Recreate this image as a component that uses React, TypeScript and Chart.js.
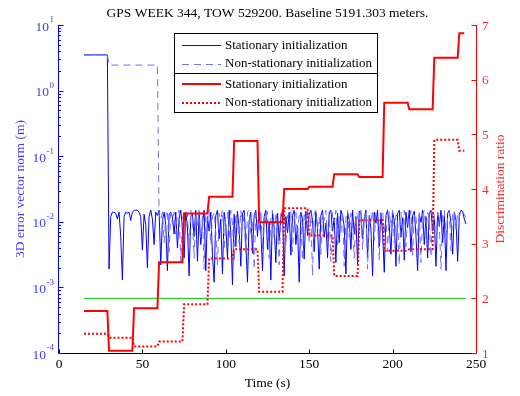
import React, { useEffect, useRef } from 'react';
import { Chart, registerables } from 'chart.js';

Chart.register(...registerables);

const TITLE = 'GPS WEEK 344, TOW 529200. Baseline 5191.303 meters.';
const X_LABEL = 'Time (s)';
const Y_LEFT_LABEL = '3D error vector norm (m)';
const Y_RIGHT_LABEL = 'Discrimination ratio';
const LEGEND_LABELS = [
  'Stationary initialization',
  'Non-stationary initialization',
  'Stationary initialization',
  'Non-stationary initialization',
];

const xTicks = [0, 50, 100, 150, 200, 250];
const rightTicks = [1, 2, 3, 4, 5, 6, 7];
const leftExponents = [-4, -3, -2, -1, 0, 1];

// discrimination ratio: value held over 15 s blocks
const stepStarts = [15, 30, 45, 60, 75, 90, 105, 120, 135, 150, 165, 180, 195, 210, 225, 240];
const stepEnd = 243;
const ratioStationary = [1.77, 1.04, 1.82, 2.66, 3.55, 3.86, 4.88, 3.39, 4.0, 4.04, 4.27, 4.22, 5.58, 5.46, 6.4, 6.85];
const ratioNonStationary = [1.35, 1.28, 1.12, 1.21, 1.89, 2.73, 2.9, 2.12, 3.65, 3.15, 2.41, 3.43, 2.87, 2.9, 4.9, 4.7];
const thresholdValue = 2;
const thresholdTimes = [15, 244];

// 3D error norm
const errInitialTimes = [15, 29];
const errInitialValue = 3.5;
const errNonStatPlateauTimes = [30, 59];
const errNonStatPlateau = 2.45;
const errStationaryStart = 30;
const errStationary = [
  0.0019, 0.012, 0.014, 0.014, 0.0135, 0.011, 0.014, 0.006, 0.0013, 0.012,
  0.014, 0.0135, 0.014, 0.0105, 0.014, 0.015, 0.015, 0.015, 0.014, 0.012,
  0.0037, 0.013, 0.009, 0.002, 0.012, 0.015, 0.011, 0.0045, 0.014, 0.0125,
  0.015, 0.0022, 0.0105, 0.014, 0.009, 0.0018, 0.013, 0.014, 0.012, 0.0065,
  0.014, 0.004, 0.011, 0.015, 0.008, 0.0028, 0.014, 0.0085, 0.0015, 0.012,
  0.0135, 0.006, 0.015, 0.0025, 0.013, 0.0045, 0.0095, 0.015, 0.0018, 0.012,
  0.0072, 0.014, 0.0032, 0.0012, 0.0125, 0.015, 0.0055, 0.011, 0.0016, 0.014,
  0.009, 0.0028, 0.015, 0.0068, 0.0011, 0.013, 0.0042, 0.0145, 0.008, 0.0021,
  0.0135, 0.015, 0.0048, 0.0012, 0.0105, 0.014, 0.0033, 0.0125, 0.015, 0.006,
  0.0145, 0.0075, 0.0018, 0.012, 0.015, 0.0038, 0.0095, 0.0013, 0.014, 0.0082,
  0.0024, 0.0135, 0.0052, 0.0115, 0.015, 0.0015, 0.012, 0.0068, 0.014, 0.0031,
  0.0125, 0.015, 0.0045, 0.0088, 0.0012, 0.014, 0.011, 0.0027, 0.0145, 0.0062,
  0.013, 0.015, 0.0105, 0.0035, 0.014, 0.0078, 0.0019, 0.0125, 0.015, 0.0058,
  0.0095, 0.0028, 0.014, 0.015, 0.0072, 0.0115, 0.0024, 0.0135, 0.0048, 0.015,
  0.0125, 0.0085, 0.0016, 0.014, 0.0105, 0.0038, 0.015, 0.0065, 0.012, 0.0022,
  0.0145, 0.0135, 0.0055, 0.011, 0.015, 0.0028, 0.0125, 0.0078, 0.0015, 0.014,
  0.0095, 0.015, 0.0042, 0.0135, 0.0068, 0.0017, 0.0125, 0.015, 0.0088, 0.0032,
  0.014, 0.0105, 0.0021, 0.0135, 0.015, 0.0058, 0.0115, 0.0026, 0.014, 0.0082,
  0.015, 0.0035, 0.0125, 0.0145, 0.0062, 0.0018, 0.013, 0.0098, 0.015, 0.0045,
  0.012, 0.0028, 0.0135, 0.015, 0.0072, 0.0112, 0.0021, 0.014, 0.0085, 0.015,
  0.0048, 0.0125, 0.0018, 0.0135, 0.015, 0.0095, 0.0032, 0.014, 0.0105, 0.0025,
  0.013, 0.015, 0.0145, 0.011, 0.0092,
];
const errNonStationaryStart = 60;
const errNonStationary = [
  0.013, 0.0105, 0.014, 0.0048, 0.012, 0.015, 0.0035, 0.0135, 0.0092, 0.014,
  0.0065, 0.013, 0.015, 0.0025, 0.011, 0.014, 0.0078, 0.0135, 0.0042, 0.015,
  0.011, 0.0028, 0.014, 0.0088, 0.015, 0.0055, 0.0125, 0.0019, 0.013, 0.0105,
  0.015, 0.0045, 0.012, 0.014, 0.0068, 0.0022, 0.0135, 0.011, 0.015, 0.0038,
  0.0125, 0.014, 0.0058, 0.015, 0.0095, 0.0024, 0.0135, 0.011, 0.0048, 0.015,
  0.0082, 0.0125, 0.0031, 0.014, 0.015, 0.0065, 0.0105, 0.0019, 0.0135, 0.012,
  0.0072, 0.015, 0.0038, 0.0125, 0.0098, 0.0145, 0.0028, 0.011, 0.015, 0.0055,
  0.014, 0.0088, 0.0022, 0.0135, 0.0115, 0.015, 0.0042, 0.0125, 0.0075, 0.0145,
  0.0035, 0.011, 0.015, 0.0062, 0.0135, 0.0105, 0.0026, 0.014, 0.0092, 0.015,
  0.0048, 0.0125, 0.0015, 0.0135, 0.015, 0.0078, 0.0118, 0.0032, 0.014, 0.0105,
  0.015, 0.0055, 0.0128, 0.0025, 0.0138, 0.0098, 0.015, 0.0045, 0.0122, 0.0068,
  0.0145, 0.0021, 0.0115, 0.015, 0.0058, 0.0135, 0.0088, 0.0028, 0.014, 0.0125,
  0.0072, 0.015, 0.0038, 0.0118, 0.014, 0.0019, 0.0128, 0.0095, 0.015, 0.0052,
  0.0138, 0.0105, 0.0026, 0.014, 0.015, 0.0065, 0.0122, 0.0035, 0.0145, 0.0082,
  0.015, 0.0048, 0.0128, 0.0112, 0.0022, 0.014, 0.0075, 0.015, 0.0042, 0.0125,
  0.0098, 0.015, 0.0031, 0.0135, 0.0118, 0.0058, 0.0145, 0.0024, 0.0128, 0.015,
  0.0068, 0.0138, 0.0105, 0.0029, 0.015, 0.0122, 0.0045, 0.014, 0.0088, 0.0019,
  0.0132, 0.015, 0.0062, 0.0115, 0.0145, 0.0036, 0.0128, 0.015, 0.0078, 0.0135,
  0.012, 0.0145, 0.015, 0.0128, 0.0118,
];

const BLUE = '#0000ff';
const BLUE_LIGHT = '#6e6eff';
const BLUE_TEXT = '#3c3cff';
const RED = '#ff0000';
const RED_TEXT = '#ff2a2a';
const GREEN = '#00c800';
const FONT = '"Liberation Serif", "Times New Roman", serif';

function stepPoints(vals: number[]) {
  const pts: { x: number; y: number }[] = [];
  vals.forEach((v, i) => {
    const s = stepStarts[i];
    const e = i + 1 < stepStarts.length ? stepStarts[i + 1] - 1 : stepEnd;
    pts.push({ x: s, y: v }, { x: e, y: v });
  });
  return pts;
}

const decorPlugin = {
  id: 'decor',
  afterDraw(chart: any) {
    const ctx: CanvasRenderingContext2D = chart.ctx;
    const { left, right, top, bottom } = chart.chartArea;
    const xs = chart.scales.x;
    const yl = chart.scales.yL;
    const yr = chart.scales.yR;
    const f = (s: number) => `${s}px ${FONT}`;
    ctx.save();

    // title
    ctx.fillStyle = '#000';
    ctx.font = f(13.5);
    ctx.textAlign = 'center';
    ctx.textBaseline = 'middle';
    ctx.fillText(TITLE, (left + right) / 2, 13);

    // bottom axis
    const by = Math.round(bottom) + 0.5;
    ctx.strokeStyle = '#000';
    ctx.lineWidth = 1;
    ctx.beginPath();
    ctx.moveTo(left, by);
    ctx.lineTo(right, by);
    xTicks.forEach((t) => {
      const px = Math.round(xs.getPixelForValue(t)) + 0.5;
      ctx.moveTo(px, by);
      ctx.lineTo(px, by - 4);
    });
    ctx.stroke();
    ctx.font = f(13.5);
    ctx.fillStyle = '#000';
    ctx.textAlign = 'center';
    ctx.textBaseline = 'middle';
    xTicks.forEach((t) => ctx.fillText(String(t), xs.getPixelForValue(t), bottom + 11));
    ctx.fillText(X_LABEL, (left + right) / 2, bottom + 30);

    // left axis
    const lx = Math.round(left) - 0.5;
    ctx.strokeStyle = BLUE;
    ctx.beginPath();
    ctx.moveTo(lx, top);
    ctx.lineTo(lx, bottom + 0.5);
    leftExponents.forEach((e) => {
      const py = Math.round(yl.getPixelForValue(Math.pow(10, e))) + 0.5;
      ctx.moveTo(lx, py);
      ctx.lineTo(lx + 5, py);
      if (e < 1) {
        for (let m = 2; m <= 9; m++) {
          const my = Math.round(yl.getPixelForValue(m * Math.pow(10, e))) + 0.5;
          ctx.moveTo(lx, my);
          ctx.lineTo(lx + 2.5, my);
        }
      }
    });
    ctx.stroke();
    ctx.fillStyle = BLUE_TEXT;
    leftExponents.forEach((e) => {
      const py = yl.getPixelForValue(Math.pow(10, e));
      const expStr = String(e);
      ctx.font = f(9);
      const we = ctx.measureText(expStr).width;
      ctx.textAlign = 'left';
      ctx.textBaseline = 'middle';
      const ex = left - 5 - we;
      ctx.fillText(expStr, ex, py - 5);
      ctx.font = f(13.5);
      ctx.textAlign = 'right';
      ctx.fillText('10', ex - 0.5, py + 2);
    });
    ctx.save();
    ctx.translate(20, (top + bottom) / 2);
    ctx.rotate(-Math.PI / 2);
    ctx.font = f(13.5);
    ctx.textAlign = 'center';
    ctx.textBaseline = 'middle';
    ctx.fillText(Y_LEFT_LABEL, 0, 0);
    ctx.restore();

    // right axis
    const rx = Math.round(right) + 0.5;
    ctx.strokeStyle = RED;
    ctx.beginPath();
    ctx.moveTo(rx, top);
    ctx.lineTo(rx, bottom + 0.5);
    rightTicks.forEach((t) => {
      const py = Math.round(yr.getPixelForValue(t)) + 0.5;
      ctx.moveTo(rx, py);
      ctx.lineTo(rx - 5, py);
    });
    ctx.stroke();
    ctx.fillStyle = RED_TEXT;
    ctx.font = f(13.5);
    ctx.textAlign = 'left';
    ctx.textBaseline = 'middle';
    rightTicks.forEach((t) => ctx.fillText(String(t), right + 6, yr.getPixelForValue(t) + 1));
    ctx.save();
    ctx.translate(500, (top + bottom) / 2);
    ctx.rotate(-Math.PI / 2);
    ctx.textAlign = 'center';
    ctx.fillText(Y_RIGHT_LABEL, 0, 0);
    ctx.restore();

    // legend
    const L = 174.5, R = 377.5, T = 33.5, B = 112.5, D = 73.5;
    ctx.fillStyle = '#fff';
    ctx.fillRect(L, T, R - L, B - T);
    ctx.strokeStyle = '#000';
    ctx.lineWidth = 1;
    ctx.strokeRect(L, T, R - L, B - T);
    ctx.beginPath();
    ctx.moveTo(L, D);
    ctx.lineTo(R, D);
    ctx.stroke();
    const rows = [45, 63.5, 84, 102.5];
    const styles = [
      { c: BLUE, w: 1, d: [] as number[] },
      { c: BLUE_LIGHT, w: 1, d: [7, 5] },
      { c: RED, w: 2, d: [] as number[] },
      { c: RED, w: 2, d: [2, 2] },
    ];
    rows.forEach((ry, i) => {
      const s = styles[i];
      ctx.strokeStyle = s.c;
      ctx.lineWidth = s.w;
      ctx.setLineDash(s.d);
      ctx.beginPath();
      const yy = s.w === 1 ? Math.round(ry) + 0.5 : Math.round(ry);
      ctx.moveTo(182, yy);
      ctx.lineTo(221, yy);
      ctx.stroke();
      ctx.setLineDash([]);
      ctx.fillStyle = '#000';
      ctx.font = f(13);
      ctx.textAlign = 'left';
      ctx.textBaseline = 'middle';
      ctx.fillText(LEGEND_LABELS[i], 225, ry + 0.5);
    });
    ctx.restore();
  },
};

export default function App() {
  const ref = useRef<HTMLCanvasElement | null>(null);
  useEffect(() => {
    if (!ref.current) return;
    const blueSolid = [
      { x: errInitialTimes[0], y: errInitialValue },
      { x: errInitialTimes[1], y: errInitialValue },
      ...errStationary.map((v, i) => ({ x: errStationaryStart + i, y: v })),
    ];
    const blueDashed = [
      { x: errInitialTimes[0], y: errInitialValue },
      { x: errInitialTimes[1], y: errInitialValue },
      { x: errNonStatPlateauTimes[0], y: errNonStatPlateau },
      { x: errNonStatPlateauTimes[1], y: errNonStatPlateau },
      ...errNonStationary.map((v, i) => ({ x: errNonStationaryStart + i, y: v })),
    ];
    const base = { pointRadius: 0, borderJoinStyle: 'miter' as const, tension: 0, fill: false };
    const chart = new Chart(ref.current, {
      type: 'line',
      data: {
        datasets: [
          { ...base, label: 'ratio stationary', data: stepPoints(ratioStationary), yAxisID: 'yR', borderColor: RED, borderWidth: 2 },
          { ...base, label: 'ratio non-stationary', data: stepPoints(ratioNonStationary), yAxisID: 'yR', borderColor: RED, borderWidth: 2, borderDash: [2, 2] },
          { ...base, label: 'threshold', data: thresholdTimes.map((t) => ({ x: t, y: thresholdValue })), yAxisID: 'yR', borderColor: GREEN, borderWidth: 1 },
          { ...base, label: 'err non-stationary', data: blueDashed, yAxisID: 'yL', borderColor: BLUE_LIGHT, borderWidth: 1, borderDash: [7, 5] },
          { ...base, label: 'err stationary', data: blueSolid, yAxisID: 'yL', borderColor: BLUE, borderWidth: 1 },
        ],
      },
      options: {
        animation: false,
        responsive: false,
        devicePixelRatio: 1,
        layout: { padding: { top: 25, left: 0, right: 0, bottom: 0 } },
        plugins: { legend: { display: false }, tooltip: { enabled: false }, title: { display: false } },
        scales: {
          x: {
            type: 'linear', min: 0, max: 250,
            grid: { display: false }, border: { display: false }, ticks: { display: false },
            afterFit: (s: any) => { s.height = 43; },
          },
          yL: {
            type: 'logarithmic', position: 'left', min: 1e-4, max: 10,
            grid: { display: false }, border: { display: false }, ticks: { display: false },
            afterFit: (s: any) => { s.width = 59; },
          },
          yR: {
            type: 'linear', position: 'right', min: 1, max: 7,
            grid: { display: false }, border: { display: false }, ticks: { display: false },
            afterFit: (s: any) => { s.width = 44; },
          },
        },
      },
      plugins: [decorPlugin],
    });
    return () => chart.destroy();
  }, []);
  return (
    <div style={{ position: 'absolute', left: 0, top: 0, width: 520, height: 396, background: '#fff' }}>
      <canvas ref={ref} width={520} height={396} style={{ display: 'block' }} />
    </div>
  );
}
